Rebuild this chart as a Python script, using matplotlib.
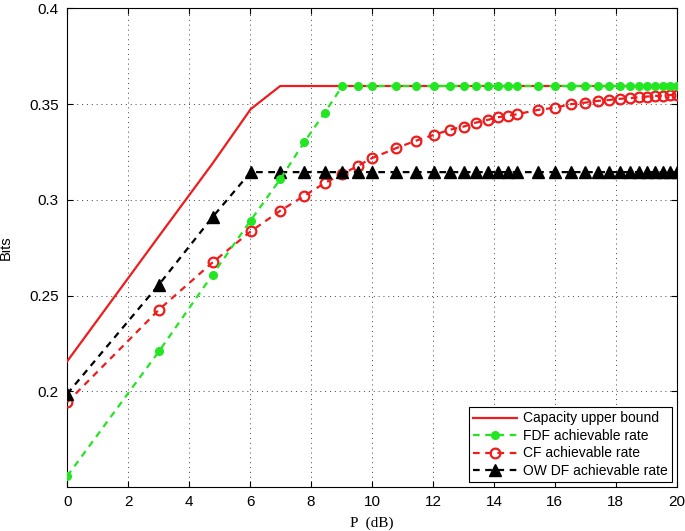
import matplotlib.pyplot as plt

# P in dB (sample points of the curves)
p_db = [0, 3.01, 4.77, 6.02, 6.99, 7.78, 8.45, 9.03, 9.54, 10.0,
        10.79, 11.46, 12.04, 12.55, 13.01, 13.42, 13.80, 14.15, 14.47, 14.77,
        15.44, 16.02, 16.53, 16.99, 17.40, 17.78, 18.13, 18.45, 18.75, 19.03,
        19.29, 19.54, 19.78, 20.0]

capacity = [0.2156, 0.281, 0.319, 0.3474, 0.3595] + [0.3595] * 29

fdf = [0.1556, 0.2208, 0.2609, 0.2892, 0.3108, 0.3302, 0.3456, 0.3595] + [0.3595] * 26

cf = [0.1942, 0.2426, 0.2673, 0.2835, 0.2943, 0.3021, 0.3088, 0.3135, 0.3178, 0.3218,
      0.3270, 0.3310, 0.3340, 0.3366, 0.3383, 0.3404, 0.3418, 0.3432, 0.3439, 0.3448,
      0.3470, 0.3482, 0.3500, 0.3508, 0.3517, 0.3522, 0.3528, 0.3531, 0.3537, 0.3540,
      0.3543, 0.3545, 0.3548, 0.3550]

owdf = [0.1986, 0.2557, 0.2910, 0.3145] + [0.3145] * 30

labels = ["Capacity upper bound", "FDF achievable rate",
          "CF achievable rate", "OW DF achievable rate"]

red = "#ee1c1c"
green = "#22e622"

fig = plt.figure(figsize=(6.85, 5.31), dpi=100)
ax = fig.add_axes([0.098, 0.083, 0.890, 0.901])

ax.plot(p_db, capacity, color=red, lw=1.6, label=labels[0], zorder=3)
ax.plot(p_db, fdf, color=green, lw=1.6, ls="--", dashes=(3, 2.5),
        marker="o", ms=5.5, mfc=green, mec=green, label=labels[1], zorder=4)
ax.plot(p_db, cf, color=red, lw=1.6, ls="--", dashes=(3, 2.5),
        marker="o", ms=7, mfc="none", mec=red, mew=1.6, label=labels[2], zorder=3)
ax.plot(p_db, owdf, color="black", lw=1.6, ls="--", dashes=(3, 2.5),
        marker="^", ms=8, mfc="black", mec="black", label=labels[3], zorder=3)

ax.set_xlim(0, 20)
ax.set_ylim(0.15, 0.4)
ax.set_xticks(range(0, 21, 2))
ax.set_yticks([0.2, 0.25, 0.3, 0.35, 0.4])
ax.set_yticklabels(["0.2", "0.25", "0.3", "0.35", "0.4"])

ax.grid(True, ls=(0, (1, 4)), color="#444444", lw=0.7)
ax.tick_params(direction="in", top=True, right=True, labelsize=11, length=4, pad=6)
for t in ax.get_xticklabels() + ax.get_yticklabels():
    t.set_fontfamily("Liberation Sans")
for s in ax.spines.values():
    s.set_linewidth(0.8)

ax.set_xlabel("P  (dB)", fontfamily="Liberation Serif", fontsize=11, labelpad=5)
ax.set_ylabel("Bits", fontfamily="Liberation Sans", fontsize=10.5, labelpad=12)

leg = ax.legend(loc="lower right", prop={"family": "Liberation Sans", "size": 10},
                fancybox=False, edgecolor="black", framealpha=1,
                borderpad=0.3, labelspacing=0.25, handlelength=3.2,
                handletextpad=0.4, borderaxespad=0.35)
leg.get_frame().set_linewidth(0.8)

fig.savefig("out.png", dpi=100)
